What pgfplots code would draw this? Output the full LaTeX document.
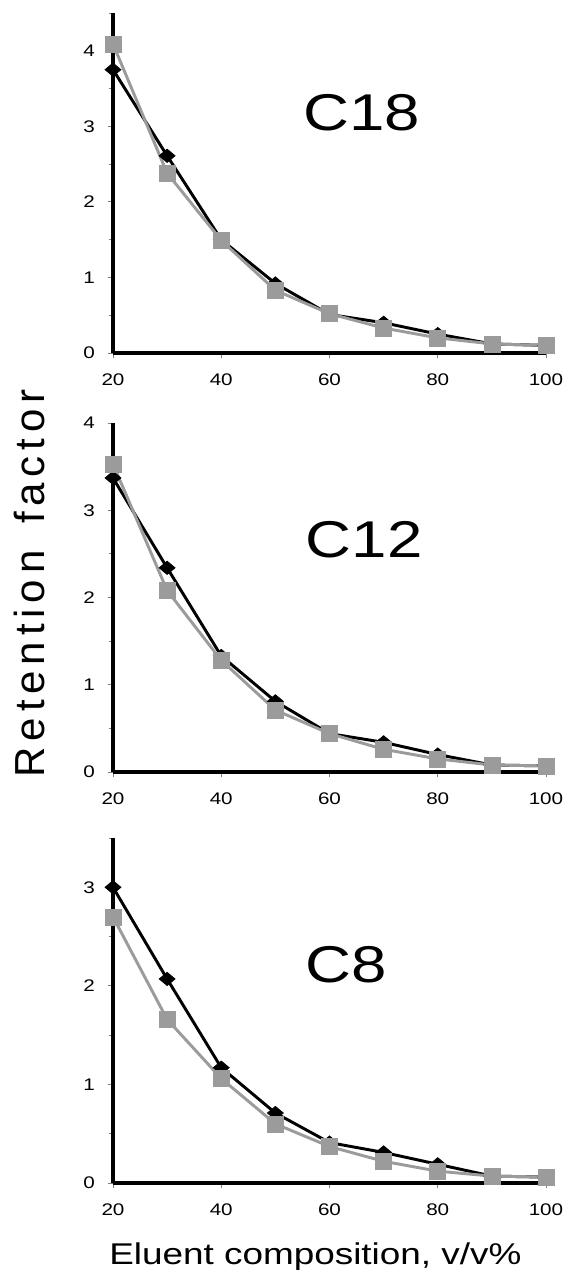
\documentclass[border=0pt]{standalone}
\usepackage{fontspec}
\setmainfont{Liberation Sans}[FakeStretch=1.23]
\newfontfamily\ylabfont{Liberation Sans}[LetterSpace=14]
\usepackage{pgfplots}
\pgfplotsset{compat=1.18}

\definecolor{sergray}{HTML}{9B9B9B}

\pgfplotsset{
  panel/.style={
    scale only axis, anchor=south west,
    width=324.75pt,
    xmin=20, xmax=100, ymin=0,
    axis x line=bottom, axis y line=left,
    axis line style={line width=3pt},
    every outer x axis line/.append style={-},
    every outer y axis line/.append style={-},
    xtick={20,40,...,100},
    tick style={gray, line width=0.6pt},
    major tick length=4pt, minor tick length=3pt,
    tick align=outside,
    ticklabel style={font=\fontsize{12.6}{14}\selectfont},
    /pgf/number format/assume math mode=true,
    xticklabel style={yshift=-8pt},
    yticklabel style={xshift=-6pt},
    clip=false,
  },
  blackser/.style={black, line width=2.2pt, mark=diamond*,
    mark size=5pt, mark options={xscale=1.6, line width=0.5pt}},
  grayser/.style={sergray, line width=2.2pt, mark=square*,
    mark size=6pt, mark options={line width=0.5pt}},
}

\begin{document}
\begin{tikzpicture}
\path[use as bounding box] (0,0) rectangle (429pt,952.5pt);

% C18
\begin{axis}[panel, at={(84.75pt,687.75pt)}, height=255pt, ymax=4.5,
  ytick={0,1,2,3,4}, minor ytick={0.5,1.5,2.5,3.5,4.5}]
\addplot[blackser] coordinates {
  (20,3.75)(30,2.61)(40,1.50)(50,0.92)(60,0.51)(70,0.40)(80,0.25)(90,0.12)(100,0.10)};
\addplot[grayser] coordinates {
  (20,4.09)(30,2.38)(40,1.49)(50,0.83)(60,0.52)(70,0.33)(80,0.20)(90,0.12)(100,0.10)};
\node[anchor=base] at (axis cs:66,2.95) {\fontsize{38.8}{44}\selectfont C18};
\end{axis}

% C12
\begin{axis}[panel, at={(84.75pt,373.5pt)}, height=261.75pt, ymax=4,
  ytick={0,1,2,3,4}, minor ytick={0.5,1.5,2.5,3.5}]
\addplot[blackser] coordinates {
  (20,3.37)(30,2.34)(40,1.33)(50,0.81)(60,0.44)(70,0.34)(80,0.20)(90,0.08)(100,0.07)};
\addplot[grayser] coordinates {
  (20,3.53)(30,2.08)(40,1.28)(50,0.71)(60,0.44)(70,0.26)(80,0.15)(90,0.08)(100,0.07)};
\node[anchor=base] at (axis cs:66.4,2.46) {\fontsize{38.8}{44}\selectfont C12};
\end{axis}

% C8
\begin{axis}[panel, at={(84.75pt,65.25pt)}, height=258.75pt, ymax=3.5,
  ytick={0,1,2,3}, minor ytick={0.5,1.5,2.5,3.5}]
\addplot[blackser] coordinates {
  (20,3.00)(30,2.07)(40,1.17)(50,0.71)(60,0.41)(70,0.31)(80,0.19)(90,0.07)(100,0.06)};
\addplot[grayser] coordinates {
  (20,2.70)(30,1.66)(40,1.06)(50,0.60)(60,0.37)(70,0.22)(80,0.12)(90,0.07)(100,0.06)};
\node[anchor=base] at (axis cs:63,2.03) {\fontsize{38.8}{44}\selectfont C8};
\end{axis}

\node[rotate=90, anchor=center, inner sep=0] at (22pt,515pt)
  {\fontsize{31.5}{36}\ylabfont Retention\hspace{20pt}factor};
\node[anchor=base west, inner sep=0] at (81.75pt,4.5pt)
  {\fontsize{22.5}{26}\selectfont Eluent composition, v/v\%};
\end{tikzpicture}
\end{document}
